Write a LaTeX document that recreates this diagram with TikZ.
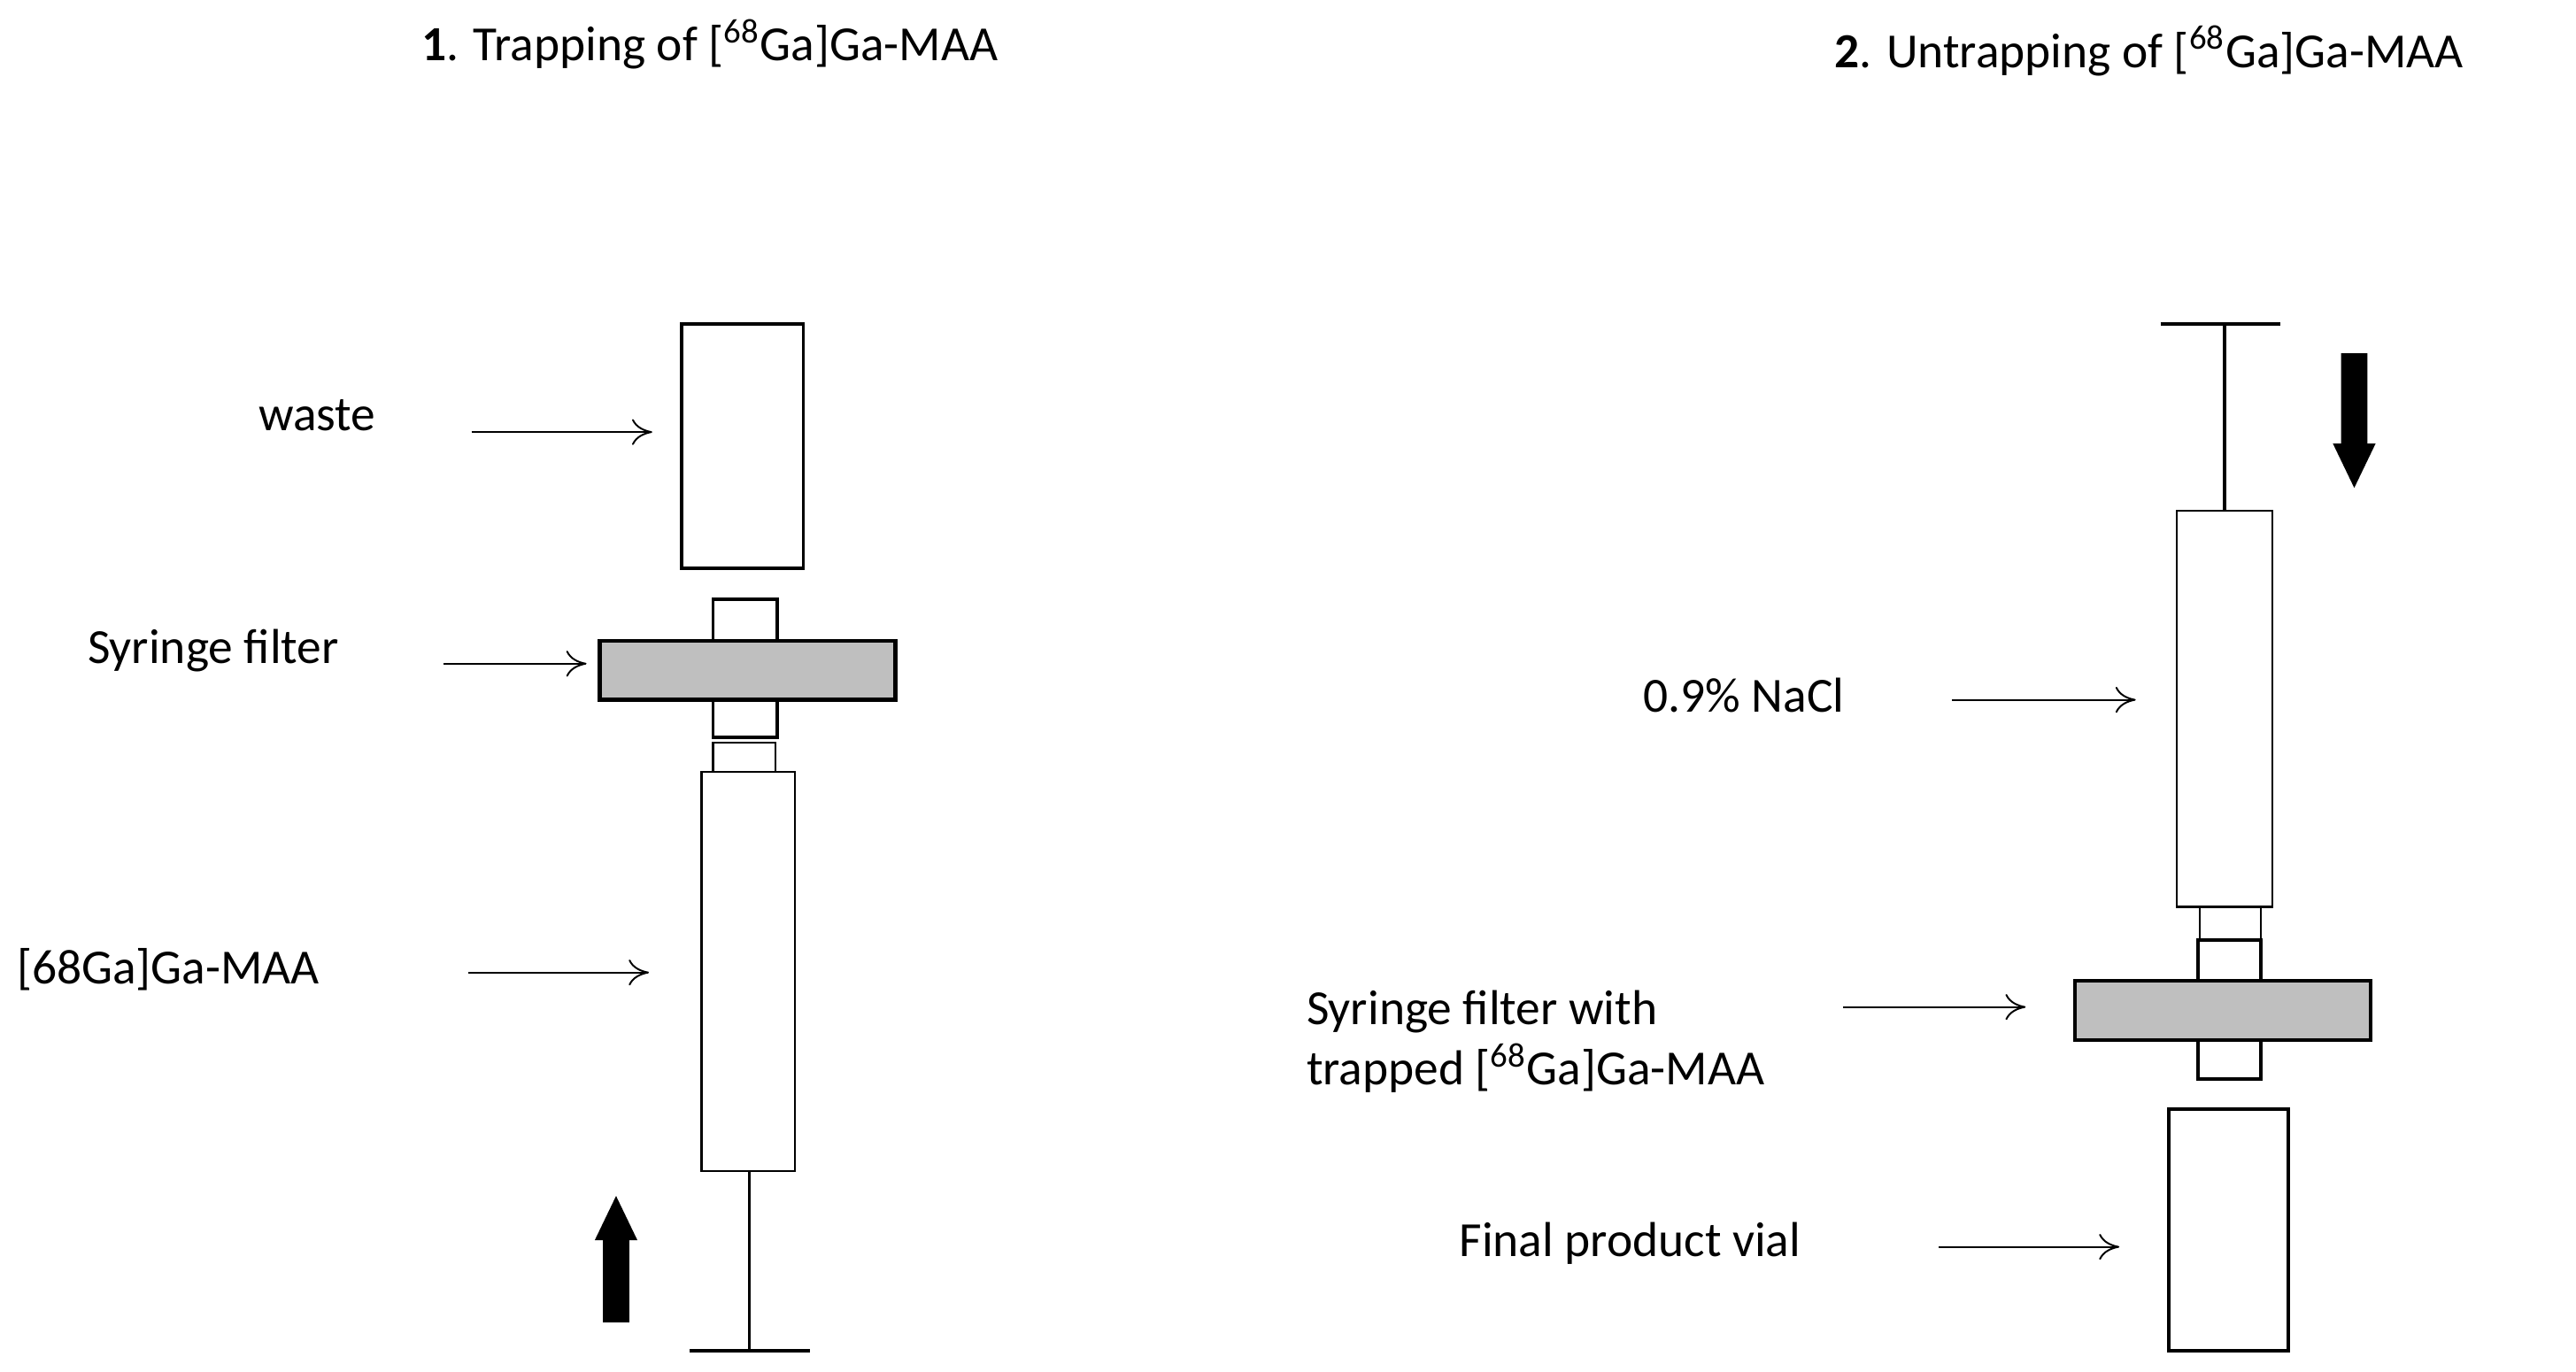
\documentclass[tikz,border=0pt]{standalone}
\usepackage{fontspec}
\setmainfont{Carlito}
\usetikzlibrary{arrows.meta}
\begin{document}
\begin{tikzpicture}[x=0.02cm,y=-0.02cm,
  thickbox/.style={draw=black,line width=1.2pt,fill=white},
  thinbox/.style={draw=black,line width=0.7pt,fill=white},
  filterbox/.style={draw=black,line width=1.3pt,fill=gray!50},
  lbl/.style={font=\fontsize{17}{21}\selectfont,inner sep=0pt},
  ttl/.style={font=\fontsize{17}{21}\selectfont,inner sep=0pt},
  pointer/.style={line width=0.6pt,-{To[length=7pt,width=9pt]}},
  bigarrow/.style={fill=black,draw=none}]
\useasboundingbox (0,0) rectangle (1568,835);
% titles
\node[ttl] (t1) at (432,27) {\textbf{1}. Trapping of [\textsuperscript{68}Ga]Ga-MAA};
\node[ttl] (t2) at (1308,31) {\textbf{2}. Untrapping of [\textsuperscript{68}Ga]Ga-MAA};
% ---- left assembly
\draw[thickbox] (415,197) rectangle (489,346);
\coordinate (waste) at (415,263);
\draw[thickbox] (434,365) rectangle (473,392);
\draw[thickbox] (434,424) rectangle (473,449);
\draw[thinbox] (434,452) rectangle (472,470);
\draw[filterbox] (365,390) rectangle (545,426);
\coordinate (filt1) at (365,404);
\draw[thinbox] (427,470) rectangle (484,713);
\coordinate (ga) at (427,592);
\draw[line width=1pt] (456,713) -- (456,822);
\draw[line width=1.2pt] (420,822) -- (493,822);
\fill[bigarrow] (367,805) -- (367,755) -- (362,755) -- (375,728) -- (388,755) -- (383,755) -- (383,805) -- cycle;
\node[lbl,anchor=west] (lw) at (157,253) {waste};
\node[lbl,anchor=west] (lf) at (53,396) {Syringe filter};
\node[lbl,anchor=west] (lg) at (10,590) {[68Ga]Ga-MAA};
\coordinate (aw) at (287,263);
\coordinate (af) at (270,404);
\coordinate (ag) at (285,592);
\coordinate (ew) at (397,263);
\coordinate (ef) at (357,404);
\coordinate (eg) at (395,592);
\draw[pointer] (aw) -- (ew);
\draw[pointer] (af) -- (ef);
\draw[pointer] (ag) -- (eg);
% ---- right assembly
\draw[line width=1.2pt] (1315,197) -- (1388,197);
\draw[line width=1pt] (1354,197) -- (1354,311);
\draw[thinbox] (1325,311) rectangle (1383,552);
\draw[thinbox] (1339,552) rectangle (1376,572);
\draw[thickbox] (1338,572) rectangle (1376,599);
\draw[thickbox] (1338,631) rectangle (1376,657);
\draw[filterbox] (1263,597) rectangle (1443,633);
\draw[thickbox] (1320,675) rectangle (1393,822);
\fill[bigarrow] (1425,215) -- (1425,270) -- (1420,270) -- (1433,297) -- (1446,270) -- (1441,270) -- (1441,215) -- cycle;
\node[lbl,anchor=west] (ln) at (1000,423) {0.9\% NaCl};
\node[lbl,anchor=west,align=left] (lt) at (795,634) {Syringe filter with\\trapped [\textsuperscript{68}Ga]Ga-MAA};
\node[lbl,anchor=west] (lv) at (888,757) {Final product vial};
\coordinate (an) at (1188,426);
\coordinate (at2) at (1122,613);
\coordinate (av) at (1180,759);
\coordinate (en) at (1300,426);
\coordinate (et) at (1233,613);
\coordinate (ev) at (1290,759);
\draw[pointer] (an) -- (en);
\draw[pointer] (at2) -- (et);
\draw[pointer] (av) -- (ev);
\end{tikzpicture}
\end{document}
